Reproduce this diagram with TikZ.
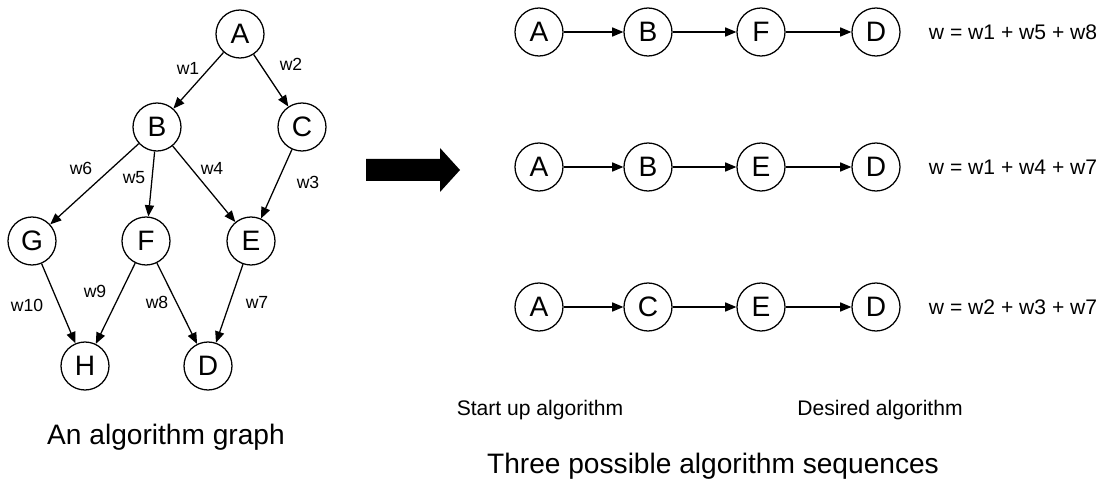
\documentclass[tikz,border=0pt]{standalone}
\usepackage{fontspec}
\setmainfont{Liberation Sans}
\usetikzlibrary{arrows.meta}

\begin{document}
\begin{tikzpicture}[x=0.025cm,y=-0.025cm,
  vert/.style={draw,circle,line width=0.9pt,minimum size=1.2cm,inner sep=0pt,font=\fontsize{20}{24}\selectfont},
  edge/.style={line width=0.9pt,-{Triangle[length=8pt,width=6.5pt]}},
  wlab/.style={font=\fontsize{12.5}{15}\selectfont},
  side/.style={font=\fontsize{15}{18}\selectfont},
  capt/.style={font=\fontsize{20}{24}\selectfont}]
\useasboundingbox (0,0) rectangle (1107,485);
\node[vert] (a) at (240,34) {A};
\node[vert] (b) at (157,127) {B};
\node[vert] (c) at (302,127) {C};
\node[vert] (g) at (32,241) {G};
\node[vert] (f) at (146,241) {F};
\node[vert] (e) at (251,241) {E};
\node[vert] (h) at (85,366) {H};
\node[vert] (d) at (208,366) {D};
\draw[edge] (a)--(b);
\draw[edge] (a)--(c);
\draw[edge] (b)--(g);
\draw[edge] (b)--(f);
\draw[edge] (b)--(e);
\draw[edge] (c)--(e);
\draw[edge] (g)--(h);
\draw[edge] (f)--(h);
\draw[edge] (f)--(d);
\draw[edge] (e)--(d);
\node[wlab] (w1) at (188,68) {w1};
\node[wlab] (w2) at (291,64) {w2};
\node[wlab] (w6) at (81,168) {w6};
\node[wlab] (w5) at (134,178) {w5};
\node[wlab] (w4) at (212,168) {w4};
\node[wlab] (w3) at (308,182) {w3};
\node[wlab] (w10) at (27,305) {w10};
\node[wlab] (w9) at (95,291) {w9};
\node[wlab] (w8) at (157,302) {w8};
\node[wlab] (w7) at (257,302) {w7};
\node[capt] (graph) at (166,437) {An algorithm graph};
\fill (366,159)--(440,159)--(440,148)--(460,170)--(440,192)--(440,181)--(366,181)--cycle;
\node[vert] (a1) at (539,32) {A};
\node[vert] (b1) at (648,32) {B};
\node[vert] (f1) at (761,32) {F};
\node[vert] (d1) at (876,32) {D};
\draw[edge] (a1)--(b1);
\draw[edge] (b1)--(f1);
\draw[edge] (f1)--(d1);
\node[side,anchor=west] (sum1) at (924,32) {w = w1 + w5 + w8};
\node[vert] (a2) at (539,167) {A};
\node[vert] (b2) at (648,167) {B};
\node[vert] (e2) at (761,167) {E};
\node[vert] (d2) at (876,167) {D};
\draw[edge] (a2)--(b2);
\draw[edge] (b2)--(e2);
\draw[edge] (e2)--(d2);
\node[side,anchor=west] (sum2) at (924,167) {w = w1 + w4 + w7};
\node[vert] (a3) at (539,307) {A};
\node[vert] (c3) at (648,307) {C};
\node[vert] (e3) at (761,307) {E};
\node[vert] (d3) at (876,307) {D};
\draw[edge] (a3)--(c3);
\draw[edge] (c3)--(e3);
\draw[edge] (e3)--(d3);
\node[side,anchor=west] (sum3) at (924,307) {w = w2 + w3 + w7};
\node[side] (start) at (540,410) {Start up algorithm};
\node[side] (goal) at (880,410) {Desired algorithm};
\node[capt] (seqs) at (713,466) {Three possible algorithm sequences};
\end{tikzpicture}
\end{document}
